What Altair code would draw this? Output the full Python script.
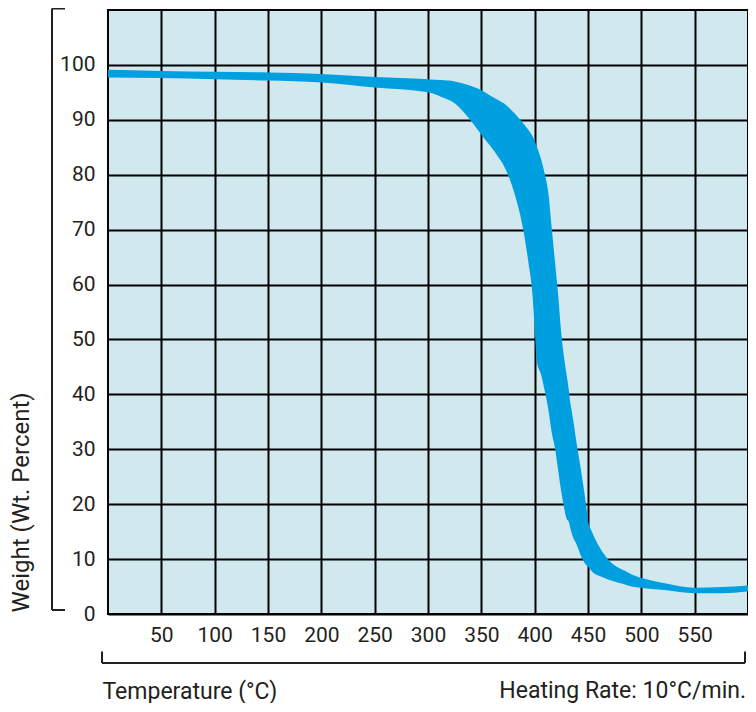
import altair as alt
import pandas as pd

# Temperature (°C) at which both band edges were read
temp = [0, 50, 100, 150, 200, 250, 300, 312, 325, 337, 350, 362, 375, 382, 389,
        394, 398, 400, 402, 406, 409, 413, 416, 419, 422, 424.5, 427, 430, 432,
        433, 434, 437, 439, 444, 448.5, 450, 453, 455, 461, 470, 484, 491, 503,
        522, 550, 575, 600]
# upper (right) edge of the TGA band, wt %
upper = [99.1, 98.9, 98.75, 98.6, 98.35, 97.8, 97.4, 97.25, 97.0, 96.4, 95.4, 94.0,
         92.4, 91.0, 89.4, 88.2, 87.0, 86.2, 85.2, 82.8, 80.5, 76.4, 70.3, 64.2,
         58.2, 52.1, 47.5, 43.5, 40.8, 39.0, 37.8, 34.2, 31.5, 25.5, 19.4, 17.0,
         15.3, 14.4, 12.1, 9.7, 7.9, 7.2, 6.4, 5.6, 4.8, 4.9, 5.2]
# lower (left) edge of the TGA band, wt %
lower = [97.7, 97.6, 97.4, 97.15, 96.8, 95.9, 95.0, 94.2, 93.0, 90.6, 87.3, 84.3,
         80.0, 76.0, 70.3, 64.2, 58.0, 52.0, 46.0, 43.6, 41.0, 37.0, 33.0, 30.3,
         26.2, 22.8, 20.0, 17.3, 16.8, 16.0, 15.2, 13.5, 12.8, 10.3, 8.9, 8.6,
         7.9, 7.5, 6.9, 6.2, 5.4, 5.0, 4.7, 4.36, 3.8, 3.8, 4.1]

x_ticks = [50, 100, 150, 200, 250, 300, 350, 400, 450, 500, 550]
y_ticks = [0, 10, 20, 30, 40, 50, 60, 70, 80, 90, 100]

x_title = "Temperature (°C)"
y_title = "Weight (Wt. Percent)"
note = "Heating Rate: 10°C/min."

df = pd.DataFrame({"T": temp, "upper": upper, "lower": lower})

W, H = 640, 604
FONT = "Roboto"
TXT = "#231f20"
BAND = "#009fdf"
BG = "#d1e8ef"

band = alt.Chart(df).mark_area(color=BAND, interpolate="monotone", opacity=1).encode(
    x=alt.X("T:Q",
            scale=alt.Scale(domain=[0, 600], nice=False, zero=False),
            axis=alt.Axis(values=x_ticks, grid=True, gridColor="black", gridWidth=2,
                          gridOpacity=1, domain=False, ticks=False,
                          labelFont=FONT, labelFontSize=21, labelColor=TXT,
                          labelPadding=10, labelFlush=False,
                          title=x_title, titleFont=FONT, titleFontSize=23,
                          titleFontWeight="normal", titleColor=TXT,
                          titleX=-6, titleY=84, titleAlign="left",
                          titleBaseline="alphabetic")),
    y=alt.Y("upper:Q",
            scale=alt.Scale(domain=[0, 110], nice=False, zero=True),
            axis=alt.Axis(values=y_ticks, grid=True, gridColor="black", gridWidth=2,
                          gridOpacity=1, domain=False, ticks=False,
                          labelFont=FONT, labelFontSize=21, labelColor=TXT,
                          labelPadding=13, labelFlush=False,
                          title=y_title, titleFont=FONT, titleFontSize=24,
                          titleFontWeight="normal", titleColor=TXT,
                          titleAngle=270, titleX=-80, titleY=602,
                          titleAlign="left", titleBaseline="alphabetic")),
    y2="lower:Q",
)

one = pd.DataFrame({"k": [0]})


def seg(x1, x2, y1, y2):
    return alt.Chart(one).mark_rule(color=TXT, strokeWidth=2).encode(
        x=alt.value(x1), x2=alt.value(x2), y=alt.value(y1), y2=alt.value(y2))


brackets = [
    seg(-6, 637, 653, 653),
    seg(-6, -6, 641.5, 653),
    seg(637, 637, 641.5, 653),
    seg(-56, -56, -1.5, 600),
    seg(-56, -43, -1.5, -1.5),
    seg(-56, -43, 600, 600),
]

note_text = alt.Chart(one).mark_text(
    font=FONT, fontSize=23, color=TXT, align="right", baseline="alphabetic"
).encode(x=alt.value(638), y=alt.value(688), text=alt.value(note))

chart = alt.layer(band, *brackets, note_text).properties(
    width=W, height=H,
    padding={"left": 100, "top": 2, "right": 0, "bottom": 89},
    autosize=alt.AutoSizeParams(type="none"),
).configure_view(fill=BG, stroke="black", strokeWidth=2)

chart.save("out.html", embed_options={"renderer": "svg", "actions": False})
